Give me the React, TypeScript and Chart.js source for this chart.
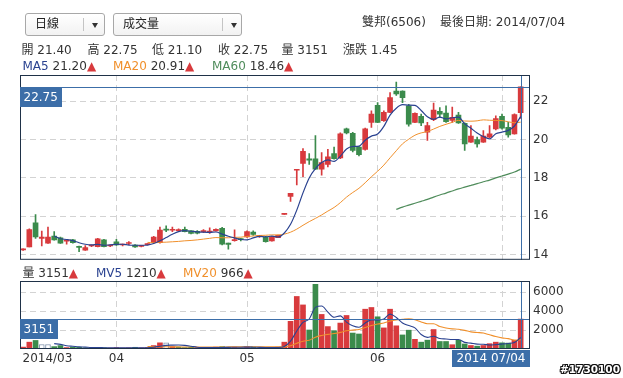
import React, { useEffect, useRef } from 'react';
import { Chart, registerables } from 'chart.js';

Chart.register(...registerables);

// ---------- data ----------
const dates = [
  '2014/03/11','2014/03/12','2014/03/13','2014/03/14','2014/03/17','2014/03/18','2014/03/19','2014/03/20','2014/03/21','2014/03/24',
  '2014/03/25','2014/03/26','2014/03/27','2014/03/28','2014/03/31',
  '2014/04/01','2014/04/02','2014/04/03','2014/04/07','2014/04/08','2014/04/09','2014/04/10','2014/04/11','2014/04/14','2014/04/15',
  '2014/04/16','2014/04/17','2014/04/18','2014/04/21','2014/04/22','2014/04/23','2014/04/24','2014/04/25','2014/04/28','2014/04/29','2014/04/30',
  '2014/05/02','2014/05/05','2014/05/06','2014/05/07','2014/05/08','2014/05/09','2014/05/12','2014/05/13','2014/05/14','2014/05/15',
  '2014/05/16','2014/05/19','2014/05/20','2014/05/21','2014/05/22','2014/05/23','2014/05/26','2014/05/27','2014/05/28','2014/05/29','2014/05/30',
  '2014/06/03','2014/06/04','2014/06/05','2014/06/06','2014/06/09','2014/06/10','2014/06/11','2014/06/12','2014/06/13','2014/06/16',
  '2014/06/17','2014/06/18','2014/06/19','2014/06/20','2014/06/23','2014/06/24','2014/06/25','2014/06/26','2014/06/27','2014/06/30',
  '2014/07/01','2014/07/02','2014/07/03','2014/07/04',
];

const opens = [
  14.25,14.4,15.66,14.85,14.6,14.97,14.88,14.7,14.77,14.42,
  14.23,14.45,14.41,14.77,14.45,14.67,14.5,14.58,14.5,14.43,
  14.52,14.63,14.63,15.32,15.27,15.25,15.32,15.24,15.22,15.2,
  15.18,15.24,15.37,14.6,14.73,14.8,14.92,15.18,14.95,14.92,
  14.72,14.89,16.1,17.04,18.4,18.76,19.0,19.0,18.46,18.7,
  19.27,19.05,20.56,20.33,19.61,19.49,20.9,21.79,20.99,21.42,
  22.53,22.53,21.76,20.9,21.21,20.39,21.04,21.47,21.38,21.0,
  21.28,20.85,19.87,20.0,19.87,20.13,20.56,21.21,20.64,20.3,
  21.4,
];
const highs = [
  14.3,15.35,16.09,15.23,15.44,15.2,14.92,14.8,14.8,14.45,
  14.47,14.5,14.85,14.8,14.5,14.8,14.55,14.68,14.52,14.48,
  14.58,14.95,15.44,15.5,15.44,15.35,15.44,15.26,15.25,15.3,
  15.4,15.35,15.42,14.6,15.29,14.85,15.24,15.24,15.0,14.95,
  14.95,15.02,16.1,17.2,18.4,19.53,19.27,20.21,19.32,19.49,
  19.61,20.35,20.6,20.38,19.65,20.6,21.5,21.93,21.5,22.45,
  23.0,22.55,21.84,21.4,21.33,20.9,21.9,21.67,21.76,21.7,
  21.42,20.88,20.73,20.13,20.47,20.73,21.24,21.33,20.9,21.35,
  22.75,
];
const lows = [
  14.22,14.4,14.85,14.46,14.58,14.75,14.58,14.55,14.6,14.16,
  14.22,14.42,14.4,14.4,14.42,14.48,14.45,14.52,14.37,14.4,
  14.5,14.6,14.6,15.2,15.2,15.2,15.18,15.08,15.08,15.15,
  15.1,15.22,14.5,14.28,14.7,14.72,14.9,15.0,14.9,14.65,
  14.7,14.88,16.1,16.78,17.64,18.07,18.7,18.45,18.15,18.58,
  18.98,19.0,20.3,19.36,19.15,19.45,20.64,20.88,20.95,21.4,
  22.3,21.93,20.7,20.88,20.73,19.96,20.99,21.16,20.9,20.9,
  20.85,19.44,19.85,19.61,19.85,20.1,20.5,20.55,20.13,20.28,
  21.1,
];
const closes = [
  14.27,15.3,14.92,14.92,14.92,14.77,14.6,14.72,14.63,14.38,
  14.37,14.47,14.82,14.41,14.47,14.5,14.52,14.6,14.4,14.45,
  14.55,14.92,15.28,15.28,15.29,15.25,15.2,15.1,15.12,15.2,
  15.22,15.32,14.55,14.53,14.75,14.78,15.2,15.06,14.95,14.67,
  14.92,15.0,16.1,17.2,18.4,19.39,18.93,18.46,18.8,19.1,
  19.0,20.3,20.35,19.44,19.22,20.56,21.33,20.9,21.42,22.19,
  22.38,22.19,20.81,21.37,20.87,20.73,21.54,21.33,20.94,21.16,
  20.87,19.78,20.18,19.78,20.18,20.3,21.1,20.59,20.25,21.3,
  22.75,
];
const volumes = [
  200,720,900,470,470,250,360,150,200,180,
  120,100,150,130,100,150,100,120,180,120,
  150,360,650,650,250,200,150,200,150,100,
  120,200,250,180,200,120,250,200,100,150,
  120,200,720,2910,5530,4640,2000,6810,3640,2360,
  1920,2730,3530,1680,1580,4190,4370,3390,2220,4190,
  2440,1480,1980,1020,720,930,2050,790,790,450,
  930,530,370,300,370,560,720,650,620,910,
  3151,
];

const pad = (n: number, arr: number[]) => (Array(n).fill(null) as (number | null)[]).concat(arr);

const ma5 = pad(5, [
  14.97,14.83,14.79,14.73,14.62,
  14.54,14.51,14.53,14.49,14.51,14.53,14.54,14.50,14.49,14.49,
  14.50,14.58,14.72,14.89,15.06,15.20,15.25,15.22,15.19,15.17,
  15.16,15.18,15.07,14.96,14.87,14.79,14.77,14.87,14.95,14.93,
  14.96,14.92,15.13,15.58,16.32,17.22,18.00,18.48,18.80,18.94,
  18.86,19.13,19.51,19.64,19.66,19.97,20.18,20.29,20.69,21.28,
  21.64,21.82,21.80,21.79,21.52,21.19,21.06,21.17,21.08,21.14,
  21.17,20.82,20.59,20.35,20.16,20.04,20.31,20.39,20.48,20.71,
  21.20,
]);
const ma20 = pad(20, [
  14.64,14.62,14.64,14.65,14.67,14.69,14.72,14.74,14.77,14.81,
  14.85,14.89,14.88,14.88,14.90,14.91,14.95,14.97,15.00,15.01,
  15.03,15.03,15.07,15.17,15.33,15.53,15.72,15.89,16.07,16.27,
  16.46,16.71,17.00,17.24,17.46,17.75,18.06,18.35,18.67,19.05,
  19.42,19.78,20.02,20.23,20.35,20.42,20.55,20.69,20.80,20.90,
  21.00,20.97,20.96,20.98,21.03,21.01,21.00,20.99,20.93,20.88,
  20.91,
]);
const ma60 = pad(60, [
  16.36,16.48,16.58,16.68,16.78,16.88,17.00,17.11,17.21,17.32,
  17.43,17.52,17.61,17.70,17.80,17.89,18.00,18.10,18.20,18.31,
  18.46,
]);
const mv5 = pad(5, [
  562,490,340,286,228,202,150,150,136,120,
  126,126,120,130,134,134,186,292,386,412,
  422,380,290,190,160,144,154,164,170,190,
  190,200,190,174,164,164,154,258,820,1896,
  2800,3160,4378,4524,3890,3346,3492,2836,2444,2288,
  2742,3070,3042,3150,3672,3322,2744,2462,2222,1528,
  1226,1340,1102,1056,1002,1002,698,614,516,500,
  426,464,520,584,692,1210,
]);
const mv20 = pad(20, [
  256,238,226,234,224,221,211,213,211,207,
  207,212,217,219,224,223,230,234,230,232,
  230,222,226,339,603,825,917,1248,1422,1535,
  1625,1752,1916,1991,2060,2263,2469,2629,2735,2937,
  3053,3117,3180,3085,2845,2659,2662,2361,2218,2123,
  2073,1963,1805,1736,1676,1494,1312,1175,1095,931,
  966,
]);

const priceTicks = [14, 16, 18, 20, 22];
const volumeTicks = [2000, 4000, 6000];

// ---------- styles ----------
const RED = '#d83a3d';
const GREEN = '#3b8b4c';
const NAVY = '#2a4290';
const ORANGE = '#f0902c';
const MA60C = '#4f8c5b';
const FRAME = '#1f3148';
const HILITE = '#3c6ea8';
const GRID = '#d3d3d3';
const TEXT = '#333333';
const FONT = '"DejaVu Sans", "Noto Sans CJK TC", sans-serif';

const N = dates.length;
const labels = [...dates, ''];
const LAST = N - 1;
const isMonthStart = (i: number) => i > 0 && i < N && dates[i].slice(5, 7) !== dates[i - 1].slice(5, 7);
const candleColor = (c: any) => {
  const i = c.dataIndex;
  return closes[i] >= opens[i] ? RED : GREEN;
};
const volDir = (i: number) => (i === 0 ? 1 : Math.sign(closes[i] - closes[i - 1]));

const overlay = {
  id: 'overlay',
  afterDraw(chart: any, _args: any, o: any) {
    const { ctx, chartArea: a, scales } = chart;
    const x = Math.round(scales.x.getPixelForValue(o.index)) + 0.5;
    const y = Math.round(scales.y.getPixelForValue(o.value)) + 0.5;
    ctx.save();
    ctx.lineWidth = 1;
    ctx.setLineDash([]);
    ctx.strokeStyle = HILITE;
    ctx.beginPath();
    ctx.moveTo(a.left, y);
    ctx.lineTo(a.right, y);
    ctx.moveTo(x, a.top);
    ctx.lineTo(x, a.bottom);
    ctx.stroke();
    ctx.strokeStyle = FRAME;
    ctx.strokeRect(a.left + 0.5, a.top + 0.5, a.width - 1, a.height - 1);
    ctx.font = `12px ${FONT}`;
    ctx.textBaseline = 'middle';
    const w = Math.ceil(ctx.measureText(o.text).width) + 7;
    ctx.fillStyle = HILITE;
    ctx.fillRect(a.left, y - 0.5, w, 20);
    ctx.fillStyle = '#ffffff';
    ctx.textAlign = 'left';
    ctx.fillText(o.text, a.left + 3.5, y + 10);
    if (o.dates) {
      ctx.fillStyle = TEXT;
      for (let i = 0; i < N; i++) {
        if (i === 0) {
          ctx.textAlign = 'left';
          ctx.fillText(dates[0].slice(0, 7), a.left + 2.5, a.bottom + 9.5);
        } else if (isMonthStart(i)) {
          ctx.textAlign = 'center';
          ctx.fillText(dates[i].slice(5, 7), scales.x.getPixelForValue(i), a.bottom + 9.5);
        }
      }
      const t = dates[LAST].replace('/', ' ');
      const bw = Math.ceil(ctx.measureText(t).width) + 9;
      ctx.fillStyle = HILITE;
      ctx.fillRect(a.right - bw, a.bottom + 1, bw, 17);
      ctx.fillStyle = '#ffffff';
      ctx.textAlign = 'center';
      ctx.fillText(t, a.right - bw / 2, a.bottom + 10);
    }
    ctx.restore();
  },
};

const xScale = () => ({
  offset: true,
  grid: {
    offset: false,
    drawTicks: false,
    lineWidth: 1,
    color: (c: any) => (isMonthStart(c.index) ? GRID : 'rgba(0,0,0,0)'),
  },
  border: { display: false, dash: [6, 4] },
  ticks: { display: false },
  afterFit: (s: any) => {
    s.height = 0;
  },
});

const yScale = (min: number, max: number, ticks: number[]) => ({
  position: 'right',
  min,
  max,
  afterBuildTicks: (s: any) => {
    s.ticks = ticks.map((v) => ({ value: v }));
  },
  ticks: { color: TEXT, font: { family: FONT, size: 12 }, padding: 3, callback: (v: any) => String(v) },
  grid: { color: GRID, drawTicks: false, lineWidth: 1 },
  border: { display: false, dash: [6, 4] },
  afterFit: (s: any) => {
    s.width = 93;
  },
});

const line = (label: string, data: (number | null)[], color: string, width: number) => ({
  type: 'line',
  label,
  data,
  borderColor: color,
  borderWidth: width,
  pointRadius: 0,
  tension: 0.3,
  cubicInterpolationMode: 'monotone',
  order: 0,
});

export default function App() {
  const priceRef = useRef<HTMLCanvasElement>(null);
  const volRef = useRef<HTMLCanvasElement>(null);

  useEffect(() => {
    const price = new Chart(priceRef.current as HTMLCanvasElement, {
      type: 'bar',
      data: {
        labels,
        datasets: [
          line('MA5', ma5, NAVY, 1.2),
          line('MA20', ma20, ORANGE, 1),
          line('MA60', ma60, MA60C, 1.2),
          {
            type: 'bar',
            label: 'body',
            data: opens.map((o, i) => [o, closes[i]]),
            backgroundColor: candleColor,
            barThickness: 5,
            grouped: false,
            minBarLength: 1,
            order: 1,
          },
          {
            type: 'bar',
            label: 'wick',
            data: lows.map((l, i) => [l, highs[i]]),
            backgroundColor: candleColor,
            barThickness: 1,
            grouped: false,
            minBarLength: 1,
            order: 2,
          },
        ] as any,
      },
      options: {
        animation: false,
        responsive: false,
        maintainAspectRatio: false,
        layout: { padding: { left: 20, top: 75, right: 0, bottom: 7 } },
        plugins: {
          legend: { display: false },
          tooltip: { enabled: false },
          overlay: { index: LAST, value: closes[LAST], text: closes[LAST].toFixed(2) },
        } as any,
        scales: {
          x: xScale(),
          y: yScale(13.73, 23.37, priceTicks),
        } as any,
      },
      plugins: [overlay],
    });

    const vol = new Chart(volRef.current as HTMLCanvasElement, {
      type: 'bar',
      data: {
        labels,
        datasets: [
          line('MV5', mv5, NAVY, 1.1),
          line('MV20', mv20, ORANGE, 1.1),
          {
            type: 'bar',
            label: 'volume',
            data: volumes,
            backgroundColor: (c: any) => {
              const d = volDir(c.dataIndex);
              return d > 0 ? RED : d < 0 ? GREEN : '#ffffff';
            },
            borderColor: '#8194ad',
            borderWidth: (c: any) => (volDir(c.dataIndex) === 0 ? 1 : 0),
            barThickness: 5,
            grouped: false,
            order: 1,
          },
        ] as any,
      },
      options: {
        animation: false,
        responsive: false,
        maintainAspectRatio: false,
        layout: { padding: { left: 20, top: 11, right: 0, bottom: 29 } },
        plugins: {
          legend: { display: false },
          tooltip: { enabled: false },
          overlay: { index: LAST, value: volumes[LAST], text: String(volumes[LAST]), dates: true },
        } as any,
        scales: {
          x: xScale(),
          y: yScale(0, 7158, volumeTicks),
        } as any,
      },
      plugins: [overlay],
    });

    return () => {
      price.destroy();
      vol.destroy();
    };
  }, []);

  const txt = (left: number, top: number, children: React.ReactNode, extra: React.CSSProperties = {}) => (
    <span
      style={{
        position: 'absolute',
        left,
        top,
        whiteSpace: 'pre',
        fontSize: 12,
        lineHeight: '14px',
        color: TEXT,
        ...extra,
      }}
    >
      {children}
    </span>
  );
  const up = <span style={{ color: RED }}>▲</span>;
  const change = (closes[LAST] - closes[LAST - 1]).toFixed(2);

  const select = (left: number, width: number, label: string, sep: number) => (
    <div
      style={{
        position: 'absolute',
        left,
        top: 13,
        width,
        height: 23,
        boxSizing: 'border-box',
        border: '1px solid #a8a8a8',
        borderRadius: 3,
        background: 'linear-gradient(#ffffff, #f2f2f2)',
      }}
    >
      <span style={{ position: 'absolute', left: 9, top: 3, fontSize: 12, lineHeight: '14px', color: '#222' }}>{label}</span>
      <div style={{ position: 'absolute', left: sep, top: 4, width: 1, height: 13, background: '#c4c4c4' }} />
      <div
        style={{
          position: 'absolute',
          left: sep + 9,
          top: 9,
          width: 0,
          height: 0,
          borderLeft: '3.5px solid transparent',
          borderRight: '3.5px solid transparent',
          borderTop: '5px solid #333',
        }}
      />
    </div>
  );

  return (
    <div
      style={{
        position: 'absolute',
        left: 0,
        top: 0,
        width: 623,
        height: 378,
        background: '#ffffff',
        fontFamily: FONT,
        overflow: 'hidden',
      }}
    >
      <canvas ref={priceRef} width={623} height={270} style={{ position: 'absolute', left: 0, top: 0 }} />
      <canvas ref={volRef} width={623} height={108} style={{ position: 'absolute', left: 0, top: 270 }} />

      {select(25, 80, '日線', 57)}
      {select(113, 129, '成交量', 108)}

      {txt(362, 15, '雙邦(6506)')}
      {txt(440, 15, `最後日期: ${dates[LAST]}`)}

      {txt(21.5, 43, `開 ${opens[LAST].toFixed(2)}`)}
      {txt(87.5, 43, `高 ${highs[LAST].toFixed(2)}`)}
      {txt(152, 43, `低 ${lows[LAST].toFixed(2)}`)}
      {txt(218, 43, `收 ${closes[LAST].toFixed(2)}`)}
      {txt(281.5, 43, `量 ${volumes[LAST]}`)}
      {txt(343, 43, `漲跌 ${change}`)}

      {txt(22.5, 59, <><span style={{ color: NAVY }}>MA5</span>{` ${(ma5[LAST] as number).toFixed(2)}`}{up}</>)}
      {txt(113, 59, <><span style={{ color: ORANGE }}>MA20</span>{` ${(ma20[LAST] as number).toFixed(2)}`}{up}</>)}
      {txt(212, 59, <><span style={{ color: MA60C }}>MA60</span>{` ${(ma60[LAST] as number).toFixed(2)}`}{up}</>)}

      {txt(22.5, 266, <>{`量 ${volumes[LAST]}`}{up}</>)}
      {txt(96, 266, <><span style={{ color: NAVY }}>MV5</span>{` ${mv5[LAST]}`}{up}</>)}
      {txt(183, 266, <><span style={{ color: ORANGE }}>MV20</span>{` ${mv20[LAST]}`}{up}</>)}

      {txt(560, 362, '#1730100', {
        fontSize: 10.5,
        fontWeight: 'bold',
        color: '#ffffff',
        textShadow: '1px 0 #111, -1px 0 #111, 0 1px #111, 0 -1px #111, 1px 1px #111, -1px -1px #111, 1px -1px #111, -1px 1px #111',
      })}
    </div>
  );
}
